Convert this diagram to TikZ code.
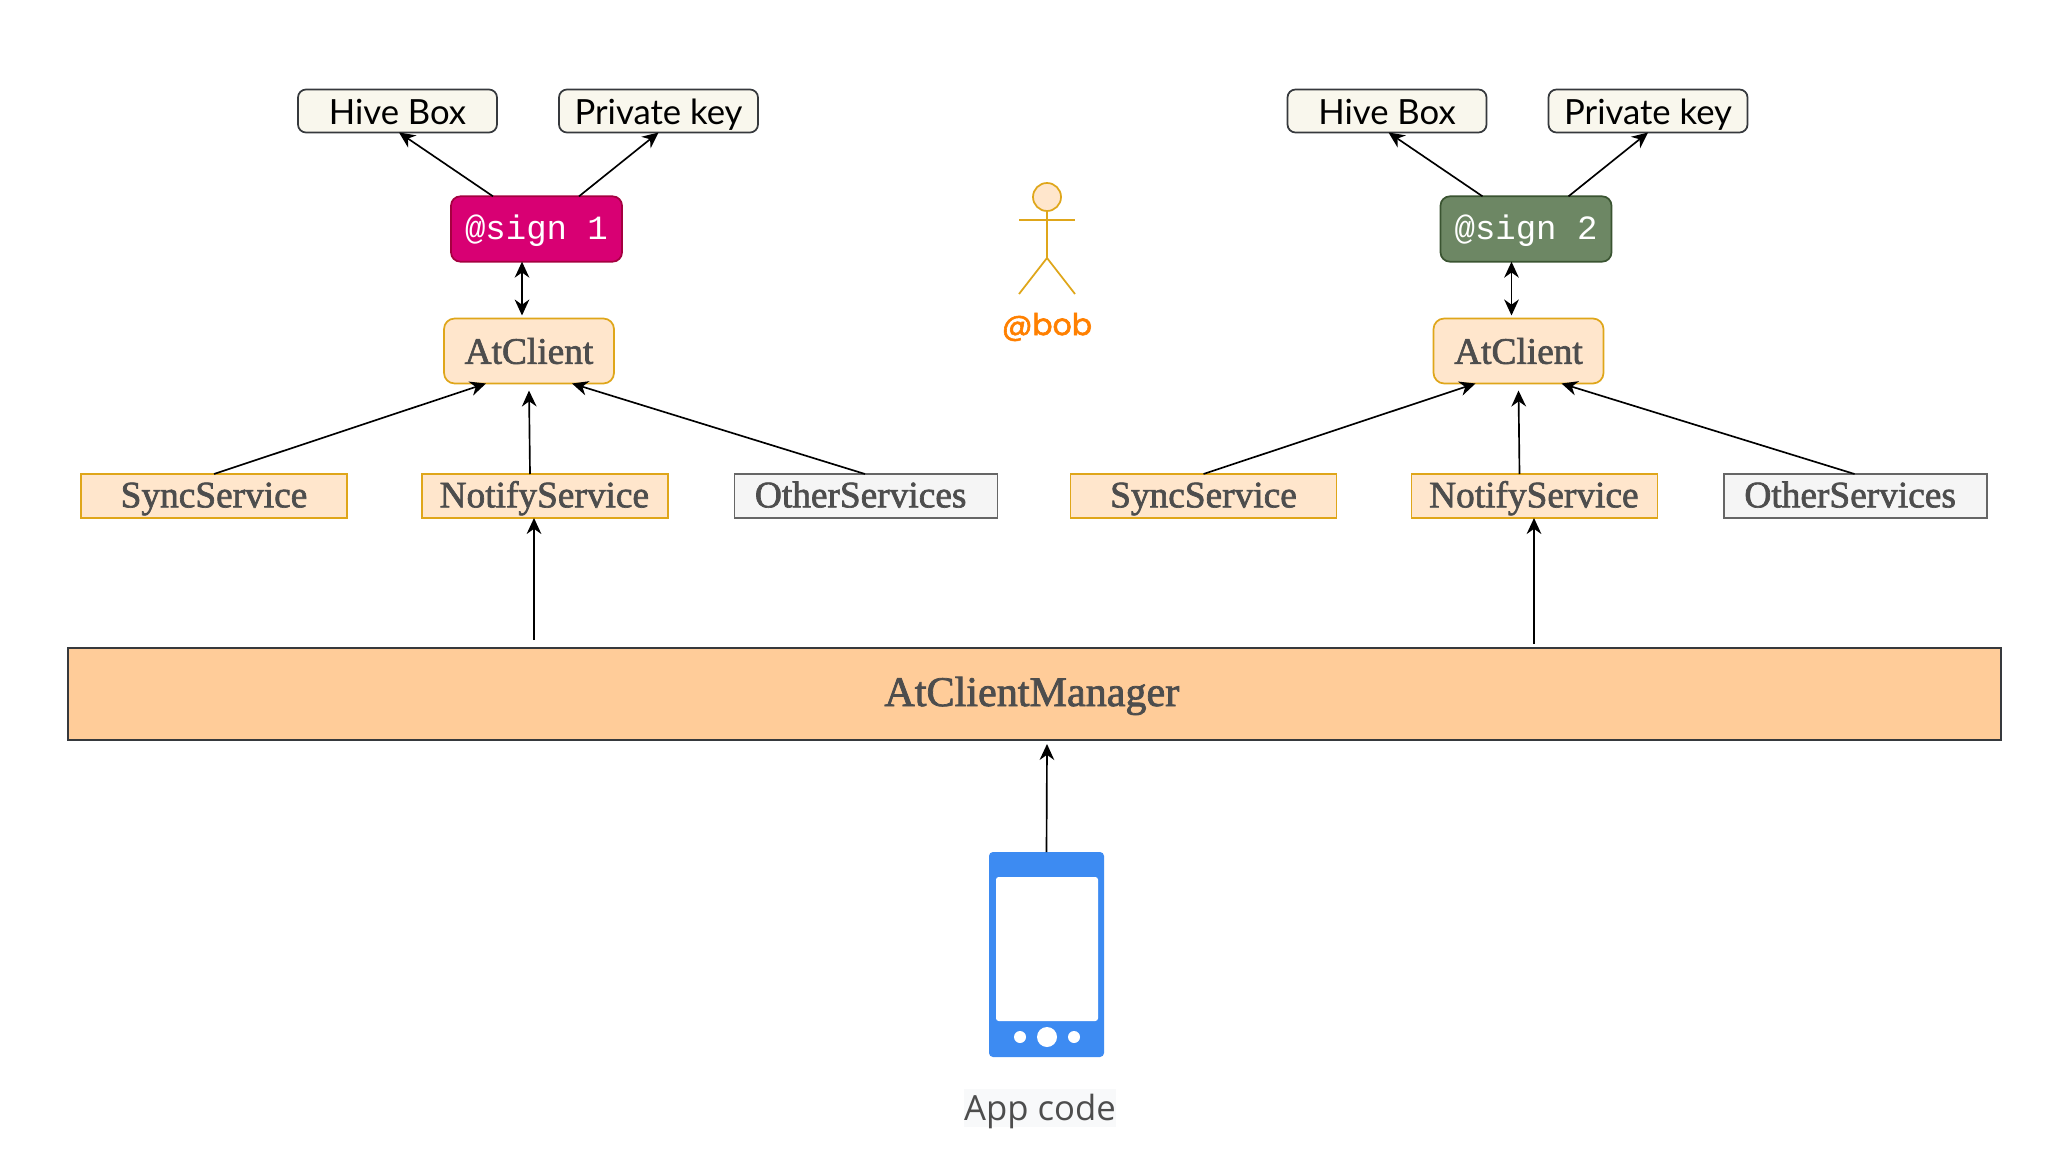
\documentclass[tikz,border=0pt]{standalone}
\usepackage{fontspec}
\usetikzlibrary{arrows.meta,calc}
\setmainfont{Liberation Serif}
\newfontfamily\uifont{Lato}
\newfontfamily\bobfont[FakeBold=2]{Poppins}
\newfontfamily\codefont{Liberation Mono}
\newfontfamily\appfont{Open Sans}
\newfontfamily\serifbold[FakeBold=1.8]{Liberation Serif}
\definecolor{txtgray}{HTML}{4D4D4D}
\definecolor{HiveFill}{HTML}{F9F7ED}
\definecolor{HiveDraw}{HTML}{36393D}
\definecolor{PeachFill}{HTML}{FFE6CC}
\definecolor{PeachDraw}{HTML}{DFA61A}
\definecolor{OtherFill}{HTML}{F5F5F5}
\definecolor{OtherDraw}{HTML}{666666}
\definecolor{PhoneBlue}{HTML}{3D8BF2}
\definecolor{HSign1}{HTML}{D80073}
\definecolor{HSign1d}{HTML}{A50040}
\definecolor{HSign2}{HTML}{6D8764}
\definecolor{HSign2d}{HTML}{3A5431}
\definecolor{ManagerFill}{HTML}{FFCC99}
\definecolor{AppBg}{HTML}{F8F9FA}
\definecolor{BobOrange}{HTML}{FF8000}
\tikzset{
  x=0.75pt,y=-0.75pt,
  box/.style={draw,line width=1.3pt,inner sep=0pt,outer sep=0pt,align=center},
  store/.style={box,rounded corners=6pt,fill=HiveFill,draw=HiveDraw,minimum width=149.25pt,minimum height=32.25pt,text=black,font=\uifont\fontsize{26}{26}\selectfont,text height=25pt,text depth=5pt},
  signbox/.style={box,rounded corners=7pt,minimum width=128.25pt,minimum height=49pt,text=white,font=\codefont\fontsize{25.5}{25.5}\selectfont,text height=21pt,text depth=5pt},
  clientbox/.style={box,rounded corners=8pt,fill=PeachFill,draw=PeachDraw,minimum width=127.5pt,minimum height=48.75pt,text=txtgray,font=\serifbold\fontsize{28}{28}\selectfont},
  servicebox/.style={box,fill=PeachFill,draw=PeachDraw,minimum height=33pt,text=txtgray,font=\serifbold\fontsize{28}{28}\selectfont,text height=23pt,text depth=6pt},
  otherbox/.style={box,fill=OtherFill,draw=OtherDraw,minimum height=33pt,minimum width=197.25pt,text=txtgray,font=\serifbold\fontsize{28}{28}\selectfont,text height=23pt,text depth=6pt},
  link/.style={line width=1.25pt,draw=black,-{Stealth[length=12pt,width=11pt]}},
  duallink/.style={line width=1.25pt,draw=black,{Stealth[length=12pt,width=11pt]}-{Stealth[length=12pt,width=11pt]}},
  stick/.style={draw=PeachDraw,line width=1.3pt},
}
\newcommand{\sidegroup}[5]{%
  \begin{scope}[shift={(#2,0)}]
    \node[store] (hive#1) at (397.5,111) {Hive Box};
    \node[store] (key#1) at (658.5,111) {Private key};
    \node[signbox,fill=#4,draw=#5] (sign#1) at (536.5,229) {#3};
    \node[clientbox] (client#1) at (529,351) {AtClient};
    \node[servicebox,minimum width=199.5pt] (sync#1) at (214,496) {SyncService};
    \node[servicebox,minimum width=184.5pt] (notify#1) at (545,496) {NotifyService\hspace*{1pt}};
    \node[otherbox] (other#1) at (866,496) {OtherServices\hspace*{8pt}};
  \end{scope}
  \draw[link] ($(sign#1.north)+(-43.5,0)$) -- ($(hive#1.south)+(1.5,0)$);
  \draw[link] ($(sign#1.north)+(42.5,0)$) -- ($(key#1.south)+(0,0)$);
  \draw[duallink] ($(sign#1.south)+(-14.5,0)$) -- ($(client#1.north)+(-7,-3)$);
  \draw[link] (sync#1.north) -- ($(client#1.south)+(-43,0)$);
  \draw[link] ($(notify#1.north)+(-15,0)$) -- ($(client#1.south)+(0,7)$);
  \draw[link] ($(other#1.north)+(-1,0)$) -- ($(client#1.south)+(43,0)$);
}
\begin{document}
\begin{tikzpicture}
\useasboundingbox (0,0) rectangle (2048,1169);
\fill[white] (0,0) rectangle (2048,1169);
\sidegroup{A}{0}{@sign 1}{HSign1}{HSign1d}
\sidegroup{B}{989.5}{@sign 2}{HSign2}{HSign2d}
\node[box,fill=ManagerFill,draw=HiveDraw,minimum width=1449.75pt,minimum height=69pt,text=txtgray,font=\serifbold\fontsize{31.6}{31.6}\selectfont,text height=24pt,text depth=6pt] (manager) at (1034.5,694) {AtClientManager\hspace*{4pt}};
\coordinate (manA) at (534,640);
\coordinate (manB) at (1534,644);
\draw[link] (manA) -- (manA |- notifyA.south);
\draw[link] (manB) -- (manB |- notifyB.south);
% phone
\node[inner sep=0pt,outer sep=0pt,fill=PhoneBlue,rounded corners=3pt,minimum width=86.25pt,minimum height=153.75pt] (phone) at (1046.5,954.5) {};
\fill[white,rounded corners=2pt] (996,877) rectangle (1098,1021);
\fill[white] (1020,1037) circle (6);
\fill[white] (1047,1037) circle (10);
\fill[white] (1074,1037) circle (6);
\draw[link] (phone.north) -- ($(manager.south)+(12.5,4)$);
\node[fill=AppBg,inner sep=0pt,minimum width=112.5pt,minimum height=29pt,text=txtgray,font=\appfont\fontsize{26}{26}\selectfont,text height=23pt,text depth=5pt] (app) at (1040,1108) {App code};
% actor
\node[circle,draw=PeachDraw,fill=PeachFill,line width=1.3pt,minimum size=21pt,inner sep=0pt] (head) at (1047,197) {};
\coordinate (armL) at (1019,220);
\coordinate (armR) at (1075,220);
\coordinate (hip) at (1047,258);
\coordinate (legL) at (1019,294);
\coordinate (legR) at (1075,294);
\draw[stick] (head.south) -- (hip);
\draw[stick] (armL) -- (armR);
\draw[stick] (legL) -- (hip) -- (legR);
\node[text=BobOrange,font=\bobfont\fontsize{22.5}{22.5}\selectfont,inner sep=0pt] (bob) at (1047,327) {@bob};
\end{tikzpicture}
\end{document}
